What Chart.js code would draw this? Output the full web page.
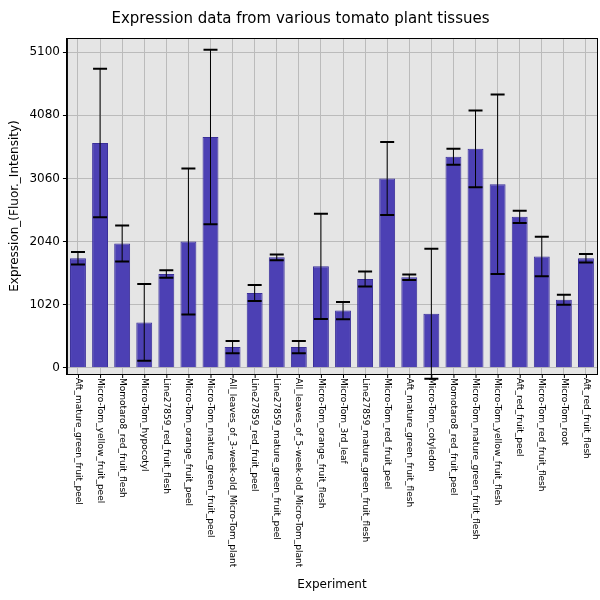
<!DOCTYPE html>
<html><head><meta charset="utf-8">
<script src="https://cdn.jsdelivr.net/npm/chart.js@4/dist/chart.umd.min.js"></script>
<style>html,body{margin:0;background:#fff}#wrap{width:600px;height:600px}</style>
</head><body><div id="wrap"><canvas id="c" width="600" height="600"></canvas></div>
<script>
const labels=['Aft_mature_green_fruit_peel','Micro-Tom_yellow_fruit_peel','Momotaro8_red_fruit_flesh','Micro-Tom_hypocotyl','Line27859_red_fruit_flesh','Micro-Tom_orange_fruit_peel','Micro-Tom_mature_green_fruit_peel','All_leaves_of_3-week-old_Micro-Tom_plant','Line27859_red_fruit_peel','Line27859_mature_green_fruit_peel','All_leaves_of_5-week-old_Micro-Tom_plant','Micro-Tom_orange_fruit_flesh','Micro-Tom_3rd_leaf','Line27859_mature_green_fruit_flesh','Micro-Tom_red_fruit_peel','Aft_mature_green_fruit_flesh','Micro-Tom_cotyledon','Momotaro8_red_fruit_peel','Micro-Tom_mature_green_fruit_flesh','Micro-Tom_yellow_fruit_flesh','Aft_red_fruit_peel','Micro-Tom_red_fruit_flesh','Micro-Tom_root','Aft_red_fruit_flesh'];
const values=[1770,3635,2010,733,1515,2040,3730,335,1210,1785,335,1640,925,1435,3060,1465,875,3410,3540,2965,2440,1800,1100,1770];
const errors=[100,1200,290,620,60,1180,1410,100,130,45,100,850,140,120,590,45,1050,130,620,1450,100,320,80,70];
const yTicks=[0,1020,2040,3060,4080,5100];

const errPlugin={id:'err',afterDatasetsDraw(ch){
  const ctx=ch.ctx,meta=ch.getDatasetMeta(0),y=ch.scales.y;
  ctx.save();ctx.strokeStyle='#000';
  meta.data.forEach((b,i)=>{
    const t=y.getPixelForValue(values[i]+errors[i]),bt=y.getPixelForValue(values[i]-errors[i]);
    ctx.lineWidth=1;ctx.beginPath();ctx.moveTo(b.x,t);ctx.lineTo(b.x,bt);ctx.stroke();
    ctx.lineWidth=2;ctx.beginPath();
    ctx.moveTo(b.x-7,t);ctx.lineTo(b.x+7,t);ctx.moveTo(b.x-7,bt);ctx.lineTo(b.x+7,bt);ctx.stroke();
  });
  ctx.restore();
}};
const bgPlugin={id:'bg',beforeDraw(ch){const a=ch.chartArea,ctx=ch.ctx;ctx.save();ctx.fillStyle='#e5e5e5';ctx.fillRect(a.left,a.top,a.right-a.left,a.bottom-a.top);ctx.restore();},
afterDraw(ch){const a=ch.chartArea,ctx=ch.ctx,x=ch.scales.x;ctx.save();ctx.strokeStyle='#000';ctx.lineWidth=1;ctx.strokeRect(a.left+.5,a.top+.5,a.right-a.left,a.bottom-a.top);
  ctx.fillStyle='#000';ctx.font='9px "DejaVu Sans"';ctx.textBaseline='middle';ctx.textAlign='left';
  labels.forEach((l,i)=>{const px=x.getPixelForValue(i);
    ctx.beginPath();ctx.moveTo(px+.5,a.bottom);ctx.lineTo(px+.5,a.bottom+4);ctx.stroke();
    ctx.save();ctx.translate(px,a.bottom+4);ctx.rotate(Math.PI/2);ctx.fillText(l,0,0);ctx.restore();});
  ctx.font='12px "DejaVu Sans"';ctx.textAlign='center';ctx.fillText('Experiment',(a.left+a.right)/2,585);
  ctx.restore();}};

new Chart(document.getElementById('c'),{type:'bar',
data:{labels,datasets:[{data:values,backgroundColor:'#4c40b4',borderColor:'#3a2f99',borderWidth:1,categoryPercentage:1,barPercentage:0.72}]},
options:{responsive:false,animation:false,devicePixelRatio:1,
layout:{padding:{left:4,right:3,top:0,bottom:226}},
plugins:{legend:{display:false},tooltip:{enabled:false},
 title:{display:true,text:'Expression data from various tomato plant tissues',color:'#000',font:{family:'DejaVu Sans',size:15,weight:'normal'},padding:{top:10,bottom:10}}},
scales:{
 x:{grid:{color:'#bbbbbb',offset:false,drawTicks:false},border:{color:'#000'},ticks:{display:false}},
 y:{min:-100,max:5330,afterBuildTicks:s=>{s.ticks=yTicks.map(v=>({value:v}))},
  grid:{color:'#bbbbbb',tickColor:'#000',tickLength:4},border:{color:'#000'},
  ticks:{color:'#000',font:{family:'DejaVu Sans',size:12},callback:v=>String(v)},
  title:{display:true,text:'Expression_(Fluor._Intensity)',color:'#000',font:{family:'DejaVu Sans',size:12}}}
}},plugins:[bgPlugin,errPlugin]});
</script></body></html>
